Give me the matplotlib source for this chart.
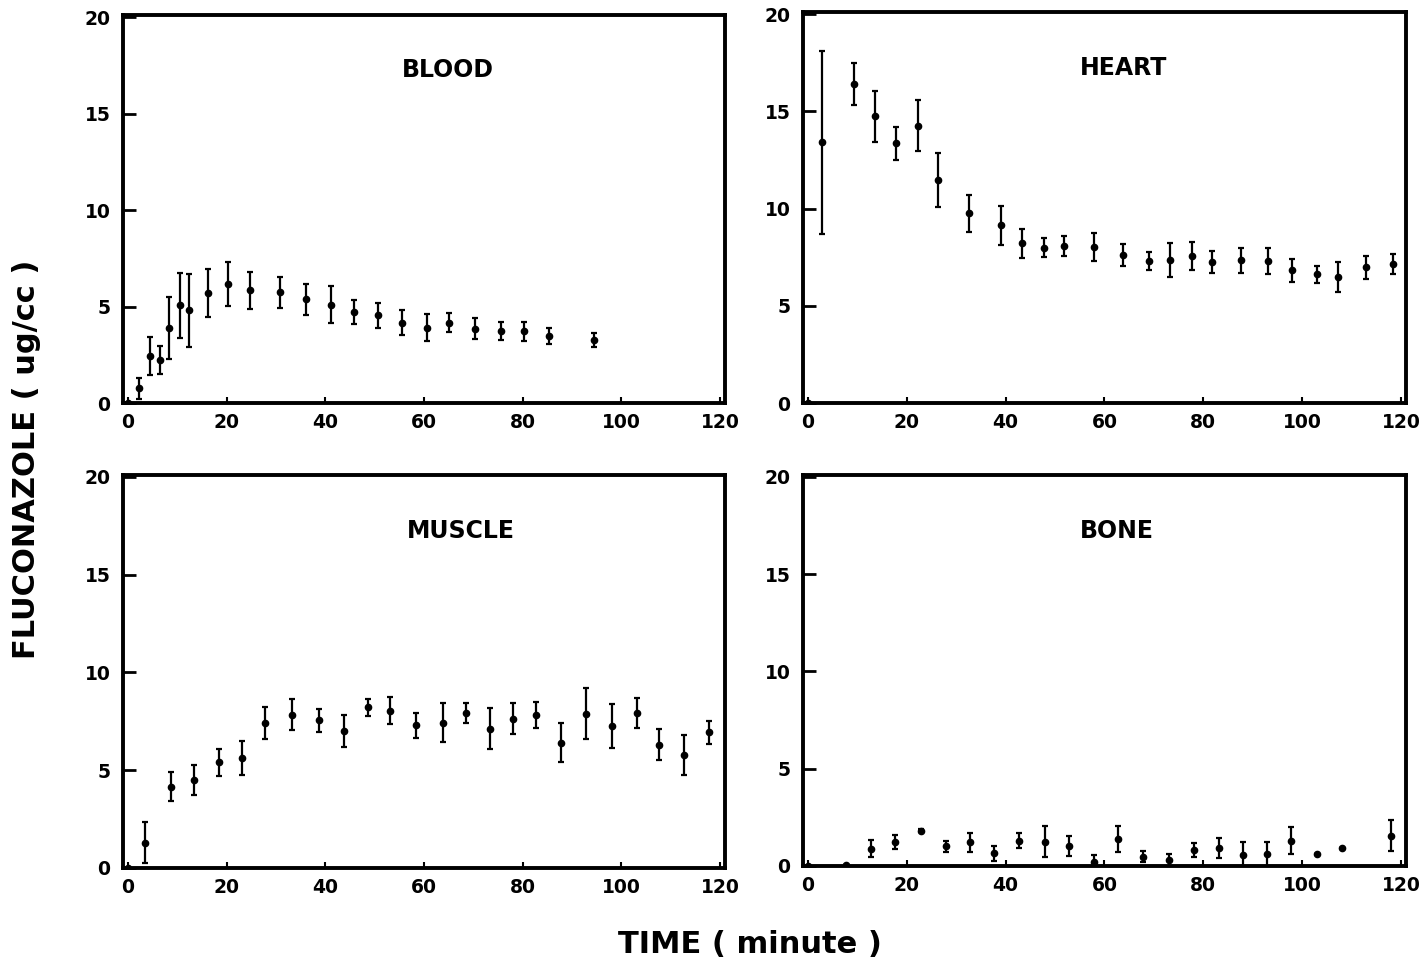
import matplotlib
matplotlib.use('Agg')
import matplotlib.pyplot as plt

# fluconazole concentration (ug/cc) vs time (minute), mean +/- error
blood_t = [0, 2.2, 4.5, 6.5, 8.4, 10.5, 12.4, 16.3, 20.2, 24.8, 30.8, 36.0, 41.1,
           45.9, 50.7, 55.6, 60.6, 65.0, 70.3, 75.5, 80.3, 85.3, 94.5]
blood_y = [0, 0.77, 2.44, 2.23, 3.9, 5.06, 4.8, 5.72, 6.18, 5.84, 5.75, 5.37, 5.1,
           4.72, 4.55, 4.15, 3.91, 4.17, 3.86, 3.74, 3.72, 3.47, 3.26]
blood_err = [0, 0.55, 1.0, 0.7, 1.6, 1.7, 1.9, 1.25, 1.15, 0.95, 0.8, 0.8, 0.95,
             0.6, 0.65, 0.65, 0.7, 0.47, 0.53, 0.47, 0.5, 0.4, 0.37]

heart_t = [0, 2.9, 9.3, 13.5, 17.9, 22.2, 26.4, 32.6, 39.0, 43.4, 47.7, 51.8, 57.8,
           63.8, 69.0, 73.3, 77.7, 81.7, 87.6, 93.0, 97.9, 103.1, 107.2, 113.0, 118.3]
heart_y = [0, 13.4, 16.4, 14.74, 13.35, 14.26, 11.48, 9.76, 9.14, 8.21, 7.99, 8.08, 8.02,
           7.61, 7.3, 7.35, 7.56, 7.27, 7.34, 7.3, 6.82, 6.62, 6.48, 6.99, 7.13]
heart_err = [0, 4.7, 1.07, 1.3, 0.85, 1.3, 1.4, 0.95, 1.0, 0.75, 0.48, 0.5, 0.73,
             0.58, 0.47, 0.86, 0.72, 0.56, 0.65, 0.69, 0.6, 0.44, 0.75, 0.59, 0.52]

muscle_t = [0, 3.5, 8.8, 13.4, 18.4, 23.1, 27.7, 33.2, 38.8, 43.8, 48.7, 53.1, 58.3,
            63.8, 68.5, 73.3, 78.0, 82.6, 87.8, 92.8, 98.0, 103.1, 107.6, 112.7, 117.8]
muscle_y = [0, 1.29, 4.16, 4.5, 5.4, 5.62, 7.43, 7.84, 7.55, 7.0, 8.21, 8.03, 7.29,
            7.43, 7.93, 7.12, 7.64, 7.81, 6.4, 7.9, 7.26, 7.93, 6.31, 5.79, 6.95]
muscle_err = [0, 1.06, 0.73, 0.78, 0.68, 0.85, 0.82, 0.78, 0.6, 0.82, 0.45, 0.69, 0.62,
              1.0, 0.53, 1.05, 0.81, 0.66, 0.99, 1.31, 1.13, 0.78, 0.78, 1.02, 0.59]

bone_t = [0, 7.6, 12.7, 17.7, 22.9, 27.9, 32.7, 37.7, 42.8, 47.9, 52.8, 57.8, 62.7,
          67.8, 73.0, 78.1, 83.1, 88.1, 92.9, 97.8, 103.0, 108.0, 117.9]
bone_y = [0, 0.05, 0.88, 1.25, 1.82, 1.0, 1.22, 0.65, 1.3, 1.25, 1.03, 0.22, 1.37,
          0.48, 0.3, 0.82, 0.91, 0.57, 0.6, 1.3, 0.62, 0.91, 1.56]
bone_err = [0, 0, 0.43, 0.36, 0.1, 0.3, 0.48, 0.4, 0.37, 0.8, 0.5, 0.35, 0.66,
            0.27, 0.33, 0.35, 0.52, 0.65, 0.62, 0.7, 0, 0, 0.78]

panels = [
    ('BLOOD', blood_t, blood_y, blood_err, [0.0866, 0.5832, 0.424, 0.4012], 0.54),
    ('HEART', heart_t, heart_y, heart_err, [0.5655, 0.5832, 0.4246, 0.4043], 0.532),
    ('MUSCLE', muscle_t, muscle_y, muscle_err, [0.0866, 0.1024, 0.424, 0.4064], 0.561),
    ('BONE', bone_t, bone_y, bone_err, [0.5655, 0.1045, 0.4246, 0.4043], 0.52),
]

fig = plt.figure(figsize=(14.2, 9.67), dpi=100)

for name, t, y, err, rect, title_x in panels:
    ax = fig.add_axes(rect)
    ax.errorbar(t, y, yerr=err, fmt='o', color='black', ms=4.5,
                elinewidth=1.6, capsize=2.5, capthick=1.6)
    ax.set_xlim(-1, 121)
    ax.set_ylim(0, 20.1)
    ax.set_xticks([0, 20, 40, 60, 80, 100, 120])
    ax.set_yticks([0, 5, 10, 15, 20])
    for s in ax.spines.values():
        s.set_linewidth(2.8)
    ax.tick_params(axis='y', direction='in', length=9, width=2, pad=9,
                   labelsize=13.5)
    ax.tick_params(axis='x', direction='in', length=4, width=1.5, pad=7,
                   labelsize=13.5)
    for lab in ax.get_xticklabels() + ax.get_yticklabels():
        lab.set_fontweight('heavy')
    ax.text(title_x, 0.858, name, transform=ax.transAxes, ha='center', va='center',
            fontsize=17, fontweight='heavy')

fig.text(0.019, 0.525, 'FLUCONAZOLE ( ug/cc )', rotation=90, ha='center',
         va='center', fontsize=22, fontweight='bold')
fig.text(0.528, 0.023, 'TIME ( minute )', ha='center', va='center', fontsize=22,
         fontweight='bold')

fig.savefig('out.png', dpi=100)
